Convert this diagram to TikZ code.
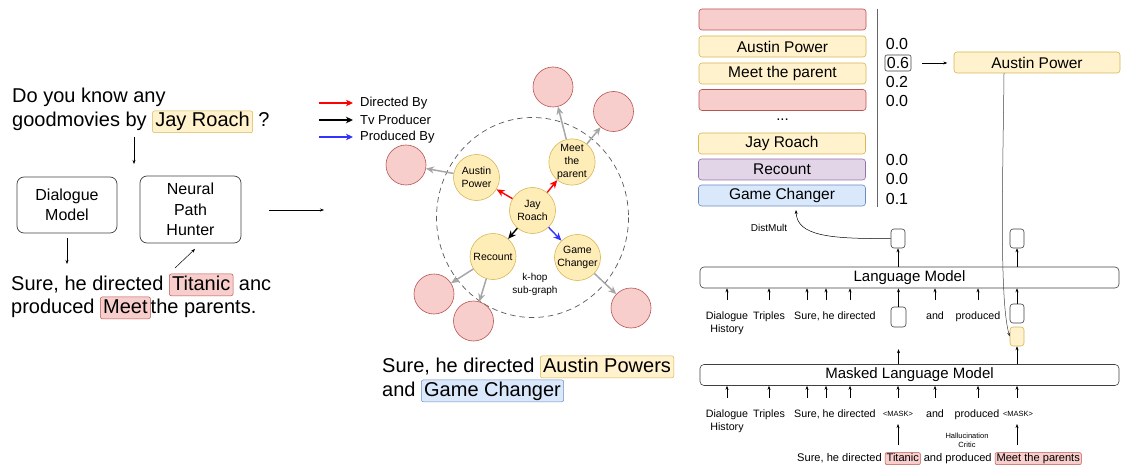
\documentclass[tikz,border=0pt]{standalone}
\usepackage{fontspec}
\setmainfont{Liberation Sans}
\usetikzlibrary{arrows.meta}
\definecolor{ylf}{HTML}{FFF2CC}
\definecolor{yld}{HTML}{D6B656}
\definecolor{pkf}{HTML}{F8CECC}
\definecolor{pkd}{HTML}{B85450}
\definecolor{puf}{HTML}{E1D5E7}
\definecolor{pud}{HTML}{9673A6}
\definecolor{blf}{HTML}{DAE8FC}
\definecolor{bld}{HTML}{6C8EBF}
\definecolor{gcirc}{HTML}{FFEDB8}
\definecolor{garrc}{HTML}{A6A6A6}
\definecolor{barr}{HTML}{3333FF}
\newcommand{\fsz}[2]{\fontsize{#1}{#2}\selectfont}
\newcommand{\hlb}[3]{\tikz[baseline=(hb.base)]\node[rounded corners=2pt,inner xsep=0.14em,inner ysep=0.08em,line width=0.5pt,fill=#1,draw=#2](hb){\vphantom{Ahg}#3};}
\begin{document}
\begin{tikzpicture}[x=1pt,y=-1pt,
  every node/.style={inner sep=0pt},
  arr/.style={-{Stealth[length=4pt,width=3pt]},line width=0.5pt},
  rbox/.style={draw=black!75,rounded corners=7pt,line width=0.7pt,align=center},
  gnode/.style={circle,minimum size=46pt,fill=gcirc,draw=yld,line width=0.6pt,align=center,font=\fsz{10.5}{13}},
  pnode/.style={circle,minimum size=40pt,fill=pkf,draw=pkd,line width=0.6pt},
  garr/.style={-{Stealth[length=8pt,width=7pt,inset=2.5pt]},draw=garrc,line width=1.5pt},
  carr/.style={-{Stealth[length=8pt,width=7pt,inset=2.5pt]},line width=1.4pt},
  legarr/.style={-{Stealth[length=7pt,width=6.5pt,inset=2pt]},line width=1.4pt},
  lbox/.style={rectangle,rounded corners=3pt,minimum width=167pt,minimum height=21pt,line width=0.6pt,font=\fsz{15.5}{18}},
  sbox/.style={rectangle,rounded corners=3pt,minimum width=14pt,minimum height=19pt,line width=0.6pt,draw=black!75},
  mbox/.style={rectangle,rounded corners=4pt,minimum width=419pt,minimum height=21pt,line width=0.6pt,draw=black!75,font=\fsz{15}{18}},
  num/.style={font=\fsz{16}{19}},
  lab/.style={font=\fsz{10.7}{13},align=center},
  big/.style={font=\fsz{20}{24}}
]
\useasboundingbox (0,0) rectangle (1121,465);

% ---------------- left part ----------------
\node[big,anchor=base west] (q1) at (12,103) {Do you know any};
\node[big,anchor=base west] (q2) at (12,127) {goodmovies by \hlb{ylf}{yld}{Jay Roach} ?};
\node[rbox,minimum width=100pt,minimum height=56pt,font=\fsz{16}{20}] (dm) at (67,205) {Dialogue\\Model};
\node[rbox,minimum width=101pt,minimum height=67pt,font=\fsz{16}{20.5}] (nph) at (190.5,209.5) {Neural\\Path\\Hunter};
\node[big,anchor=base west] (s1) at (11,290) {Sure, he directed \hlb{pkf}{pkd}{Titanic} anc};
\node[big,anchor=base west] (s2) at (11,313) {produced \hlb{pkf}{pkd}{Meet}the parents.};
\coordinate (qa) at (134,137);
\coordinate (qb) at (134,164);
\draw[arr] (qa) -- (qb);
\coordinate (da) at (67,264);
\draw[arr] (dm.south) ++(0,5) -- (da);
\coordinate (na) at (175,268);
\coordinate (nb) at (195,249);
\draw[arr] (na) -- (nb);
\coordinate (ga) at (269,210);
\coordinate (gb) at (324,210);
\draw[arr] (ga) -- (gb);

% ---------------- graph ----------------
\coordinate (l1a) at (319,103); \coordinate (l1b) at (353,103);
\coordinate (l2a) at (319,120); \coordinate (l2b) at (353,120);
\coordinate (l3a) at (319,137); \coordinate (l3b) at (353,137);
\draw[legarr,red] (l1a) -- (l1b);
\draw[legarr,black] (l2a) -- (l2b);
\draw[legarr,barr] (l3a) -- (l3b);
\node[anchor=west,font=\fsz{13}{15}] (lt1) at (360,103) {Directed By};
\node[anchor=west,font=\fsz{13}{15}] (lt2) at (360,120) {Tv Producer};
\node[anchor=west,font=\fsz{13}{15}] (lt3) at (360,137) {Produced By};

\draw[dash pattern=on 5.5pt off 4pt,draw=black!65,line width=0.7pt] (532.5,217.5) ellipse [x radius=96,y radius=100];
\node[lab,font=\fsz{10}{13}] (khop) at (535,284.5) {k-hop\\sub-graph};

\node[gnode] (jr) at (532.5,210.5) {Jay\\Roach};
\node[gnode] (ap) at (476.5,177.5) {Austin\\Power};
\node[gnode] (mp) at (572,162) {Meet\\the\\parent};
\node[gnode] (rc) at (493,256.5) {Recount};
\node[gnode] (gc) at (577.5,257.5) {Game\\Changer};

\node[pnode] (p1) at (553,87) {};
\node[pnode] (p2) at (613.5,111.5) {};
\node[pnode] (p3) at (406,165) {};
\node[pnode] (p4) at (434,294) {};
\node[pnode] (p5) at (473.5,321) {};
\node[pnode] (p6) at (631,308) {};

\draw[carr,red] (jr) -- (ap);
\draw[carr,red] (jr) -- (mp);
\draw[carr,black] (jr) -- (rc);
\draw[carr,barr] (jr) -- (gc);
\draw[garr] (ap) -- (p3);
\draw[garr] (mp) -- (p1);
\draw[garr] (mp) -- (p2);
\draw[garr] (rc) -- (p4);
\draw[garr] (rc) -- (p5);
\draw[garr] (gc) -- (p6);

\node[big,anchor=base west] (m1) at (382,372) {Sure, he directed \hlb{ylf}{yld}{Austin Powers}};
\node[big,anchor=base west] (m2) at (382,396) {and \hlb{blf}{bld}{Game Changer}};

% ---------------- right panel: entity list ----------------
\node[lbox,fill=pkf,draw=pkd] (e1) at (782.5,19.5) {};
\node[lbox,fill=ylf,draw=yld] (e2) at (782.5,46.5) {Austin Power};
\node[lbox,fill=ylf,draw=yld] (e3) at (782.5,73.5) {Meet the parent};
\node[lbox,fill=pkf,draw=pkd] (e4) at (782.5,100) {};
\node[font=\fsz{15}{18}] (dots) at (782.5,120) {...};
\node[lbox,fill=ylf,draw=yld] (e5) at (782,143.5) {Jay Roach};
\node[lbox,fill=puf,draw=pud] (e6) at (782,169.5) {Recount};
\node[lbox,fill=blf,draw=bld] (e7) at (782,195.5) {Game Changer};
\coordinate (vt) at (877,9);
\coordinate (vb) at (877,207);
\draw[draw=black!60,line width=0.8pt] (vt) -- (vb);

\node[num] (n1) at (897,44) {0.0};
\node[num,draw=black!75,rounded corners=2pt,line width=0.6pt,minimum width=26pt,minimum height=16pt] (n2) at (898,63) {0.6};
\node[num] (n3) at (897,82) {0.2};
\node[num] (n4) at (897,101) {0.0};
\node[num] (n5) at (897,160) {0.0};
\node[num] (n6) at (897,179) {0.0};
\node[num] (n7) at (897,199) {0.1};
\node[lbox,fill=ylf,draw=yld,minimum width=166pt] (sel) at (1037,62.5) {Austin Power};
\draw[arr] (n2.east) ++(11,0) -- ++(25,0);

% ---------------- language models ----------------
\node[mbox] (lm) at (909.5,277.5) {Language Model};
\node[mbox] (mlm) at (909.5,375) {Masked Language Model};
\node[sbox] (b1) at (898,238.5) {};
\node[sbox] (b2) at (1017,238.5) {};
\node[sbox,minimum width=15pt,minimum height=20pt] (b3) at (898.5,317) {};
\node[sbox] (b4) at (1017,313.5) {};
\node[sbox,fill=ylf,draw=yld] (yb) at (1017,336.5) {};

\draw[arr] (lm.north -| b1) -- (b1.south);
\draw[arr] (lm.north -| b2) -- (b2.south);
\draw[arr] (b3.north) -- (b3.north |- lm.south);
\draw[arr] (b4.north) -- (b4.north |- lm.south);
\draw[arr] (mlm.north -| b3) -- ++(0,-15);
\draw[arr] (mlm.north -| yb) -- (yb.south);

% row 1 labels
\node[lab,anchor=base] (r1a) at (727,319) {Dialogue};
\node[lab,anchor=base] (r1b) at (727,332) {History};
\node[lab,anchor=base] (r1c) at (769,319) {Triples};
\node[lab,anchor=base west] (r1d) at (794,319) {Sure, he directed};
\node[lab,anchor=base] (r1e) at (935,319) {and};
\node[lab,anchor=base] (r1f) at (978,319) {produced};
\foreach \xx in {727,769,807,826,850,935,978}{
  \coordinate (ua\xx) at (\xx,300);
  \draw[arr] (ua\xx) -- (ua\xx |- lm.south);
}
% row 2 labels
\node[lab,anchor=base] (r2a) at (727,417) {Dialogue};
\node[lab,anchor=base] (r2b) at (727,430) {History};
\node[lab,anchor=base] (r2c) at (769,417) {Triples};
\node[lab,anchor=base west] (r2d) at (794,417) {Sure, he directed};
\node[lab,anchor=base] (r2e) at (935,417) {and};
\node[lab,anchor=base] (r2f) at (977,417) {produced};
\node[font=\fsz{7.5}{9}] (mk1) at (898,414) {<MASK>};
\node[font=\fsz{7.5}{9}] (mk2) at (1018,414) {<MASK>};
\foreach \xx in {727,769,807,826,850,898,935,978,1017}{
  \coordinate (ub\xx) at (\xx,398);
  \draw[arr] (ub\xx) -- (ub\xx |- mlm.south);
}
\coordinate (hc1) at (898,445);
\coordinate (hc2) at (1017,445);
\draw[arr] (hc1) -- (898,424);
\draw[arr] (hc2) -- (1017,424);
\node[font=\fsz{7.5}{9},align=center] (hcr) at (967,440) {Hallucination\\Critic};
\node[anchor=base west,font=\fsz{11.1}{13.5}] (bot) at (797,461.5) {Sure, he directed \hlb{pkf}{pkd}{Titanic} and produced \hlb{pkf}{pkd}{Meet the parents}};

\node[font=\fsz{10}{12}] (dmlt) at (769,228) {DistMult};
\coordinate (dmend) at (796,210);
\draw[arr] (b1.west) .. controls (830,239) and (797,236) .. (dmend);
\coordinate (selb) at (1004,73);
\draw[arr,draw=black!75] (selb) .. controls (1003,170) and (999,300) .. (yb.west);
\end{tikzpicture}
\end{document}
